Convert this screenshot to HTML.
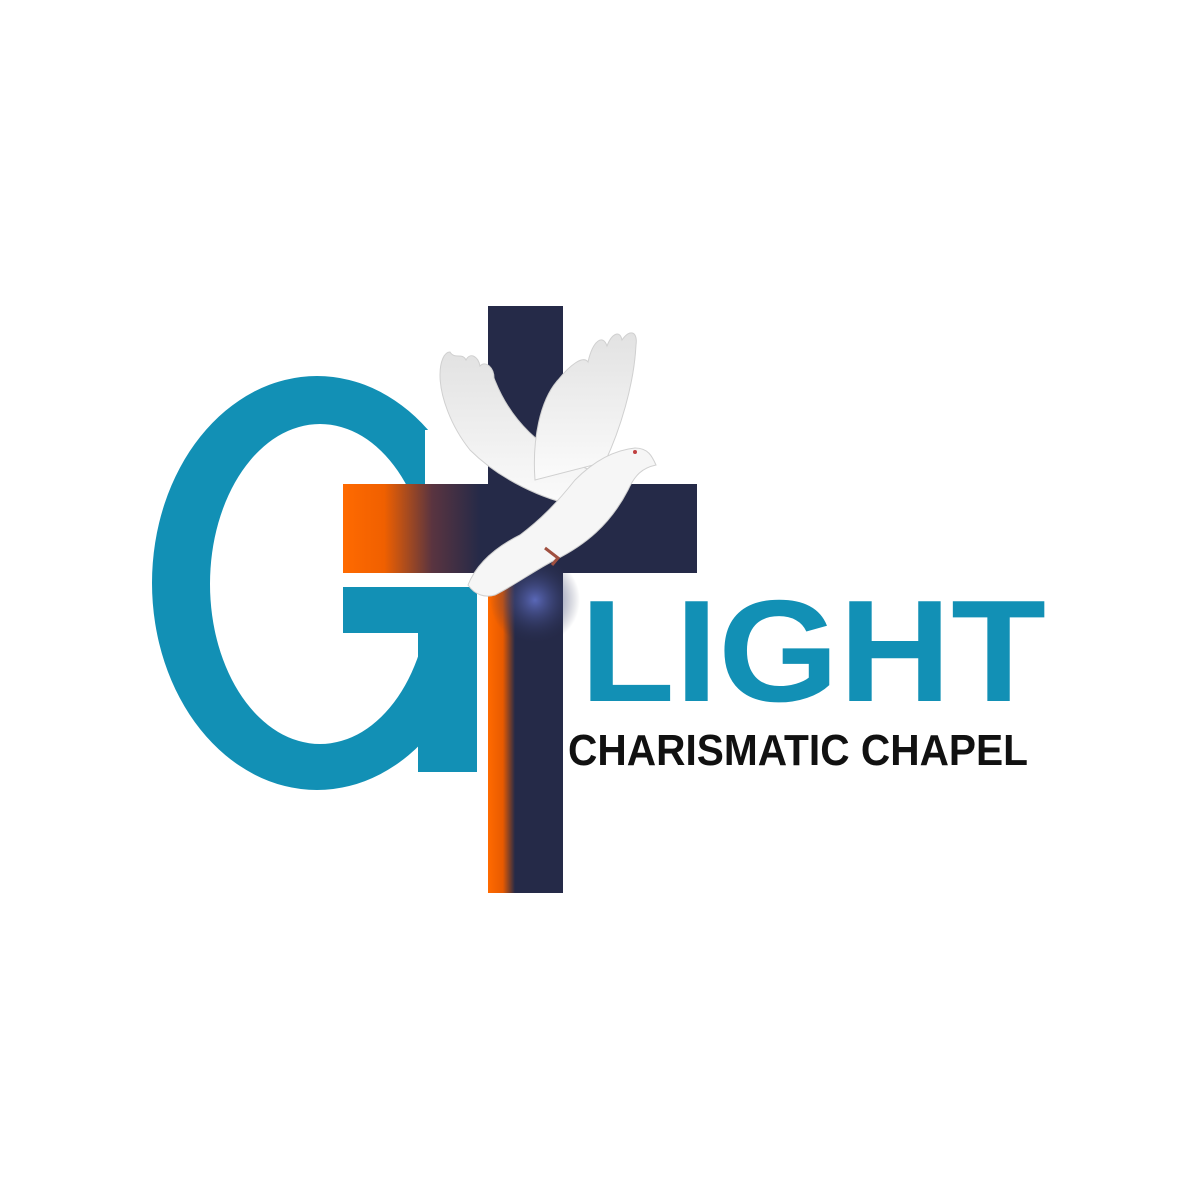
<!DOCTYPE html>
<html><head><meta charset="utf-8"><style>
html,body{margin:0;padding:0;background:#fff;width:1200px;height:1200px;overflow:hidden}
</style></head><body>
<svg width="1200" height="1200" viewBox="0 0 1200 1200">
<defs>
<linearGradient id="armG" x1="343" y1="0" x2="480" y2="0" gradientUnits="userSpaceOnUse">
<stop offset="0" stop-color="#ff6a00"/><stop offset="0.3" stop-color="#f06000"/><stop offset="0.65" stop-color="#5a3440"/><stop offset="1" stop-color="#252a48"/></linearGradient>
<linearGradient id="stemG" x1="488" y1="0" x2="515" y2="0" gradientUnits="userSpaceOnUse">
<stop offset="0" stop-color="#ff6a00"/><stop offset="0.55" stop-color="#e85a00"/><stop offset="1" stop-color="#252a48"/></linearGradient>
<radialGradient id="glow" cx="535" cy="600" r="45" gradientUnits="userSpaceOnUse">
<stop offset="0" stop-color="#5a68b8"/><stop offset="1" stop-color="#252a48" stop-opacity="0"/></radialGradient>
<clipPath id="gclip"><rect x="0" y="0" width="477" height="1200"/></clipPath>
<linearGradient id="wing" x1="0" y1="0" x2="0" y2="1"><stop offset="0" stop-color="#e2e2e2"/><stop offset="1" stop-color="#fbfbfb"/></linearGradient>
</defs>
<g fill="#1290b5">
<path clip-path="url(#gclip)" fill-rule="evenodd" d="M317,376 A165,207 0 1,0 317,790 A165,207 0 1,0 317,376 Z M320,424 A110,160 0 1,1 320,744 A110,160 0 1,1 320,424 Z"/>
<rect x="425" y="430" width="65" height="157" fill="#fff"/>
<rect x="343" y="587" width="134" height="46"/>
<rect x="418" y="587" width="59" height="185"/>
</g>
<g>
<rect x="488" y="306" width="75" height="587" fill="#252a48"/>
<rect x="343" y="484" width="354" height="89" fill="#252a48"/>
<rect x="343" y="484" width="145" height="89" fill="url(#armG)"/>
<rect x="488" y="573" width="30" height="320" fill="url(#stemG)"/>
<rect x="490" y="560" width="90" height="90" fill="url(#glow)"/>
</g>
<g stroke="#d0d0d0" stroke-width="1">
<path d="M575,505 C545,500 500,480 470,450 C450,425 440,395 440,375 C440,362 444,352 450,352 C455,360 462,352 466,360 C470,352 478,356 480,366 C486,360 494,368 494,378 C510,420 540,450 590,470 Z" fill="url(#wing)"/>
<path d="M535,480 C532,440 540,400 558,380 C570,365 583,355 588,362 C593,340 603,334 607,346 C612,333 620,330 622,340 C630,328 638,332 636,345 C634,385 620,430 605,462 Z" fill="url(#wing)"/>
<path d="M468,585 C478,560 500,545 520,535 C540,520 555,505 575,480 C595,460 615,450 635,448 C648,448 652,456 656,465 C642,468 635,475 628,490 C610,525 585,545 555,560 C535,570 515,585 495,595 C485,598 475,595 468,585 Z" fill="#f6f6f6"/>
<circle cx="635" cy="452" r="2" fill="#c04040" stroke="none"/>
<path d="M545,548 L558,558 L552,565" stroke="#a05040" stroke-width="3" fill="none"/>
</g>
<text x="580" y="701" font-family="Liberation Sans, sans-serif" font-weight="bold" font-size="145" fill="#1290b5" textLength="466" lengthAdjust="spacingAndGlyphs">LIGHT</text>
<text x="568" y="765" font-family="Liberation Sans, sans-serif" font-weight="bold" font-size="44" fill="#111" textLength="460" lengthAdjust="spacingAndGlyphs">CHARISMATIC CHAPEL</text>
</svg>
</body></html>
